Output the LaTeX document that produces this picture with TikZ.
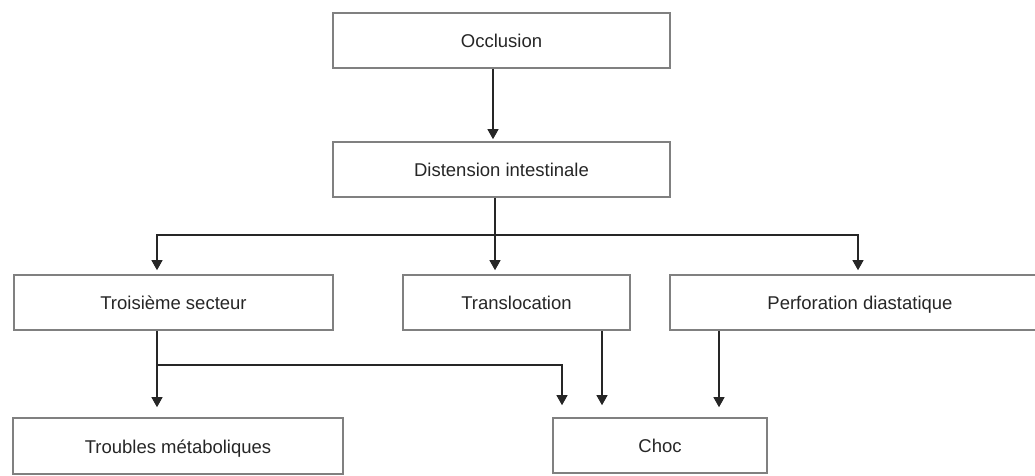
\documentclass[tikz,border=0pt]{standalone}
\usepackage{fontspec}
\setmainfont{Liberation Sans}
\usetikzlibrary{arrows.meta}
\begin{document}
\begin{tikzpicture}[x=1pt,y=-1pt,
  box/.style={draw=black!50, line width=1.6pt, minimum height=55pt, inner sep=0pt,
    text height=17pt, text depth=3pt,
    font=\fontsize{18.5}{22}\selectfont, text=black!85},
  conn/.style={draw=black!85, line width=1.1pt},
  arr/.style={conn, -{Triangle[width=11pt,length=10pt]}}]
\useasboundingbox (0,0) rectangle (1035,476);
\node[box, minimum width=337pt] (occ) at (501.5,40.5) {Occlusion};
\node[box, minimum width=337pt] (dist) at (501.5,169.5) {Distension intestinale};
\node[box, minimum width=319pt] (trois) at (173.5,302.5) {Troisième secteur};
\node[box, minimum width=227pt] (trans) at (516.5,302.5) {Translocation};
\node[box, minimum width=380pt] (perf) at (860,302.5) {Perforation diastatique};
\node[box, minimum width=330pt, minimum height=56pt] (troub) at (178,446) {Troubles métaboliques};
\node[box, minimum width=214pt] (choc) at (660,445.5) {Choc};
\coordinate (j1) at (495,235);
\coordinate (cl) at (157,365);
% occlusion -> distension
\draw[arr, shorten >=2pt] ([xshift=-8.5pt]occ.south) -- ([xshift=-8.5pt]dist.north);
% distension -> three
\draw[conn] ([xshift=-6.5pt]dist.south) -- (j1);
\draw[arr, shorten >=4pt] (j1) -- (trans.north -| j1);
\draw[arr, shorten >=4pt] (j1) -| ([xshift=-16.5pt]trois.north);
\draw[arr, shorten >=4pt] (j1) -| ([xshift=-2pt]perf.north);
% troisieme -> troubles, choc
\draw[arr, shorten >=10pt] (trois.south -| cl) -- (troub.north -| cl);
\draw[arr, shorten >=12pt] (cl) -| ([xshift=-98pt]choc.north);
% translocation -> choc
\draw[arr, shorten >=12pt] ([xshift=85.5pt]trans.south) -- ([xshift=-58pt]choc.north);
% perforation -> choc
\draw[arr, shorten >=10pt] ([xshift=-141pt]perf.south) -- ([xshift=59pt]choc.north);
\end{tikzpicture}
\end{document}
